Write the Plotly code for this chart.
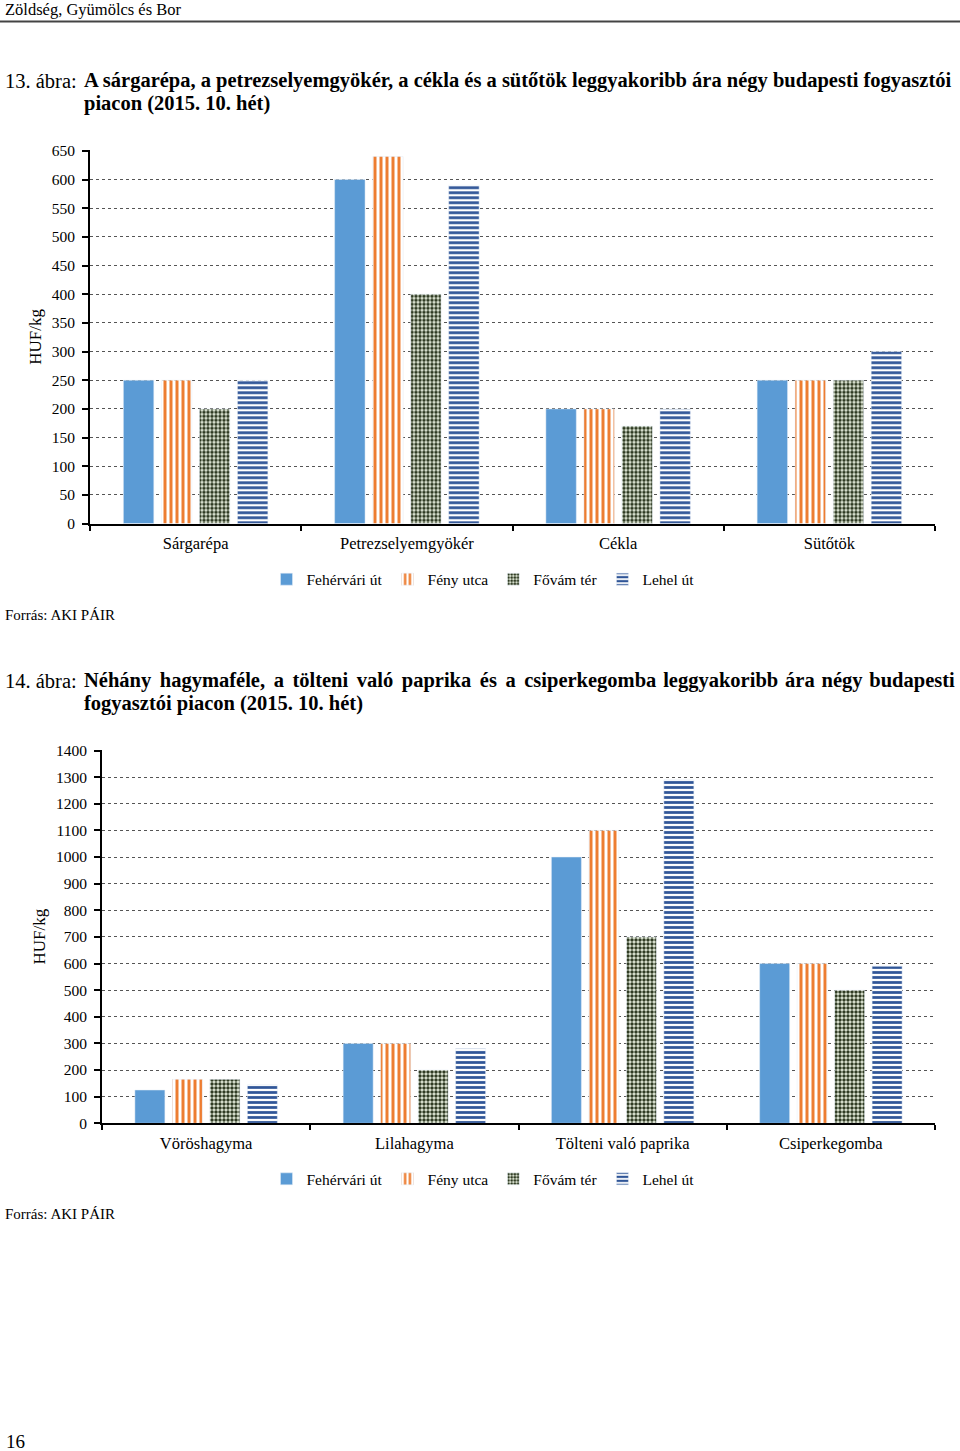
import plotly.graph_objects as go

W, H = 960, 1451
FONT = "Liberation Serif"

# ---- Data ----
series = ["Fehérvári út", "Fény utca", "Fővám tér", "Lehel út"]

cats1 = ["Sárgarépa", "Petrezselyemgyökér", "Cékla", "Sütőtök"]
feher1 = [250, 600, 200, 250]
feny1 = [250, 640, 200, 250]
fovam1 = [200, 400, 170, 250]
lehel1 = [250, 590, 200, 300]

cats2 = ["Vöröshagyma", "Lilahagyma", "Tölteni való paprika", "Csiperkegomba"]
feher2 = [125, 300, 1000, 600]
feny2 = [165, 300, 1100, 600]
fovam2 = [165, 200, 700, 500]
lehel2 = [145, 280, 1290, 590]

ticks1 = list(range(0, 651, 50))
ticks2 = list(range(0, 1401, 100))

# ---- Styles ----
styles = [
    dict(color="#5B9BD5", pattern=dict(shape="")),
    dict(color="#ED7D31", pattern=dict(shape="|", fgcolor="#ED7D31", bgcolor="white",
                                       size=6, solidity=0.5, fillmode="replace")),
    dict(color="#3A4A2A", pattern=dict(shape=".", fgcolor="#2E3A22", bgcolor="#E8F0DE",
                                       size=4, solidity=0.6, fillmode="replace")),
    dict(color="#2F5597", pattern=dict(shape="-", fgcolor="#2F5597", bgcolor="white",
                                       size=5, solidity=0.55, fillmode="replace")),
]

fig = go.Figure()

# vertical placement helper (pixel row on the page -> paper fraction),
# with a small correction for how the page gets captured
def py(px):
    return 1 - ((px - 7.1) / 0.9895) / H

data1 = [feher1, feny1, fovam1, lehel1]
data2 = [feher2, feny2, fovam2, lehel2]
for i, name in enumerate(series):
    fig.add_trace(go.Bar(x=cats1, y=data1[i], name=name, marker=styles[i],
                         xaxis="x", yaxis="y", legend="legend"))
for i, name in enumerate(series):
    fig.add_trace(go.Bar(x=cats2, y=data2[i], name=name, marker=styles[i],
                         xaxis="x2", yaxis="y2", legend="legend2"))

tickfont = dict(family=FONT, size=15.5, color="black")
catfont = dict(family=FONT, size=16.5, color="black")

xcommon = dict(type="category", showline=True, linecolor="black", linewidth=2,
               ticks="outside", tickson="boundaries", ticklen=5, tickcolor="black",
               tickwidth=1.5, tickfont=catfont, showgrid=False, zeroline=False,
               ticklabelstandoff=4)
ycommon = dict(showline=True, linecolor="black", linewidth=2, ticks="outside",
               ticklen=6, tickcolor="black", tickwidth=1.5, tickfont=tickfont,
               showgrid=True, gridcolor="#555555", griddash="3px,3px", gridwidth=1,
               zeroline=False, ticklabelstandoff=4,
               title=dict(text="HUF/kg", font=dict(family=FONT, size=17, color="black"),
                          standoff=6))

# tiny headroom so that the top gridline is drawn
top1, top2 = 651, 1402
fig.update_layout(
    width=W, height=H,
    margin=dict(l=0, r=0, t=0, b=0),
    paper_bgcolor="white", plot_bgcolor="white",
    barmode="group", bargap=0.28, bargroupgap=0.2,
    font=dict(family=FONT, color="black"),
    xaxis=dict(domain=[90 / W, 935 / W], anchor="y", **xcommon),
    yaxis=dict(domain=[py(523), py(150 - 373 / 650 * (top1 - 650))], anchor="x",
               range=[0, top1], tickvals=ticks1, **ycommon),
    xaxis2=dict(domain=[102 / W, 935 / W], anchor="y2", **xcommon),
    yaxis2=dict(domain=[py(1123), py(750 - 373 / 1400 * (top2 - 1400))], anchor="x2",
                range=[0, top2], tickvals=ticks2, **ycommon),
    legend=dict(orientation="h", x=483 / W, xanchor="center", y=py(579), yanchor="middle",
                font=dict(family=FONT, size=15.5, color="black"), itemwidth=30,
                tracegroupgap=0, traceorder="normal"),
    legend2=dict(orientation="h", x=483 / W, xanchor="center", y=py(1179), yanchor="middle",
                 font=dict(family=FONT, size=15.5, color="black"), itemwidth=30,
                 tracegroupgap=0, traceorder="normal"),
)

def text(x, y, s, size):
    fig.add_annotation(xref="paper", yref="paper", x=x / W, y=py(y), text=s,
                       showarrow=False, xanchor="left", yanchor="middle",
                       font=dict(family=FONT, size=size, color="black"))

text(3, 9, "Zöldség, Gyümölcs és Bor", 16.5)
fig.add_shape(type="line", xref="paper", yref="paper", x0=0, x1=1, y0=py(20.5), y1=py(20.5),
              line=dict(color="#444444", width=2))

text(3, 80, "13. ábra:", 20.5)
text(82, 80, "<b>A sárgarépa, a petrezselyemgyökér, a cékla és a sütőtök leggyakoribb ára négy budapesti fogyasztói</b>", 20.5)
text(82, 103, "<b>piacon (2015. 10. hét)</b>", 20.5)
text(3, 614, "Forrás: AKI PÁIR", 15)

# first line of the 14. title is justified in the original: widen the word gaps slightly
words14 = "Néhány hagymaféle, a tölteni való paprika és a csiperkegomba leggyakoribb ára négy budapesti".split(" ")
line14 = words14[0]
for k, w in enumerate(words14[1:]):
    line14 += (" \u200a\u200a" if k < 8 else " \u200a") + w
text(3, 680, "14. ábra:", 20.5)
text(82, 680, "<b>" + line14 + "</b>", 20.5)
text(82, 703, "<b>fogyasztói piacon (2015. 10. hét)</b>", 20.5)
text(3, 1214, "Forrás: AKI PÁIR", 15)

text(4, 1441, "16", 19)

fig.write_html(
    "out.html",
    config={"displayModeBar": False},
    post_script=(
        "document.documentElement.style.margin='0';"
        "document.body.style.margin='0';"
        "document.body.style.overflow='hidden';"
        "var d=document.getElementById('{plot_id}');"
        "d.style.position='absolute';d.style.top='0px';d.style.left='0px';"
    ),
)
